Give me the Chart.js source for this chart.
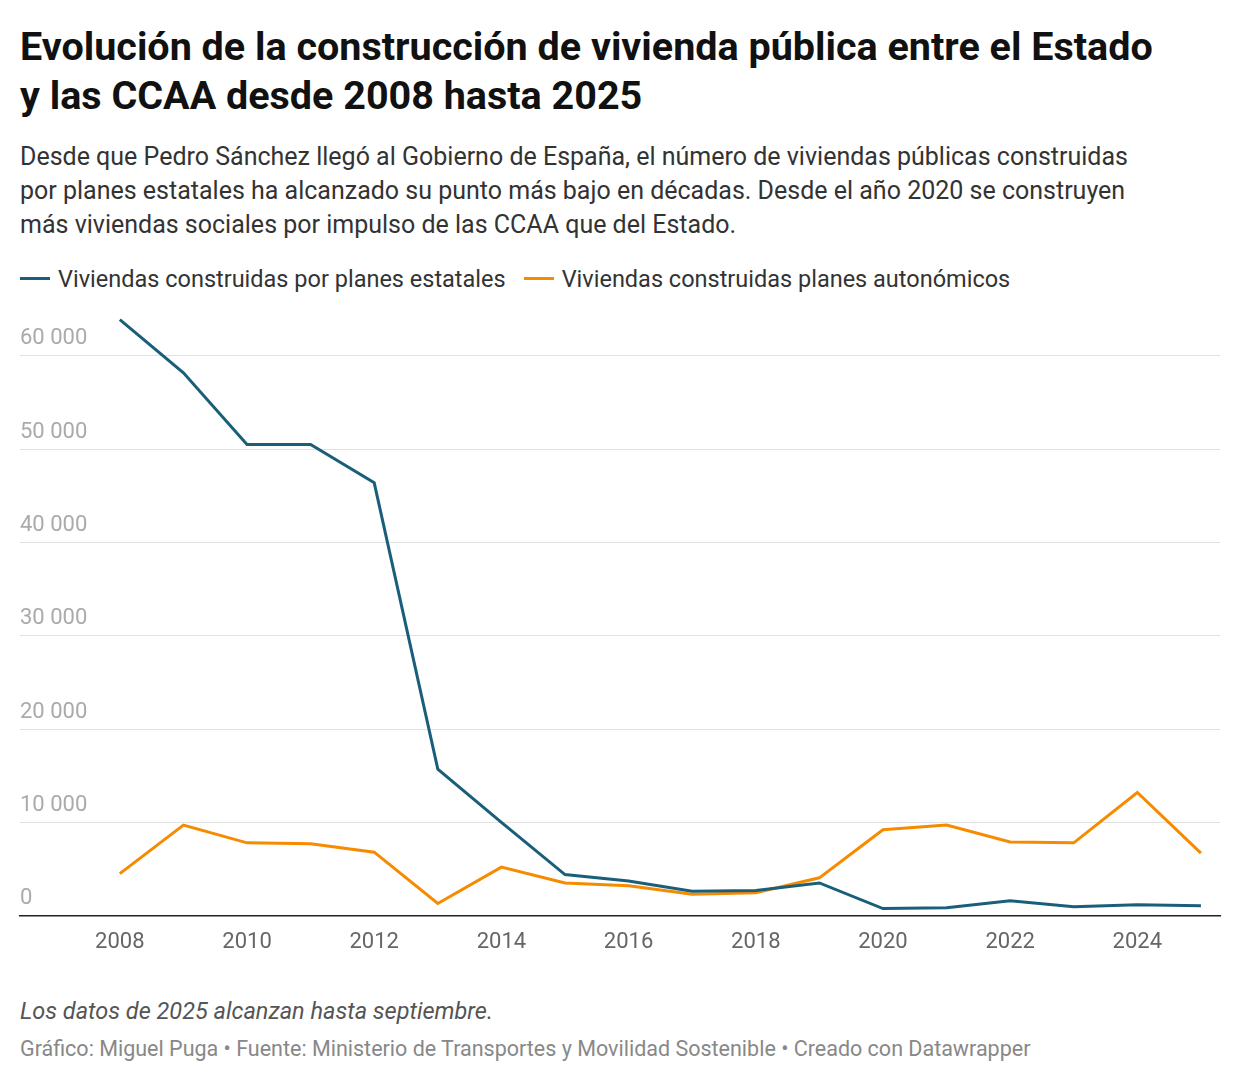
<!DOCTYPE html>
<html>
<head>
<meta charset="utf-8">
<script src="https://cdn.jsdelivr.net/npm/chart.js@4"></script>
<style>
  body { margin: 0; background: #fff; font-family: Roboto, sans-serif; color: #222; }
  #wrap { position: relative; width: 1240px; height: 1082px; }
  h1 { position: absolute; left: 20px; top: 22px; margin: 0; font-size: 39.5px; line-height: 49px; font-weight: 700; width: 1150px; color: #111; }
  .sub { position: absolute; left: 20px; top: 140px; font-size: 25px; line-height: 34px; width: 1150px; color: #333; }
  .legend { position: absolute; left: 20px; top: 265px; font-size: 23.5px; color: #333; }
  .legend span { display: inline-block; margin-right: 18px; }
  .legend i { display: inline-block; width: 30px; height: 3px; vertical-align: middle; margin-right: 8px; position: relative; top: -2px; }
  #box { position: absolute; left: 0; top: 300px; width: 1240px; height: 670px; }
  .note { position: absolute; left: 20px; top: 997px; font-size: 23.5px; font-style: italic; color: #555; }
  .src { position: absolute; left: 20px; top: 1036px; font-size: 21.5px; color: #888; }
</style>
</head>
<body>
<div id="wrap">
  <h1>Evolución de la construcción de vivienda pública entre el Estado y las CCAA desde 2008 hasta 2025</h1>
  <div class="sub">Desde que Pedro Sánchez llegó al Gobierno de España, el número de viviendas públicas construidas por planes estatales ha alcanzado su punto más bajo en décadas. Desde el año 2020 se construyen más viviendas sociales por impulso de las CCAA que del Estado.</div>
  <div class="legend"><span><i style="background:#1a5f7a"></i>Viviendas construidas por planes estatales</span><span><i style="background:#f68b00"></i>Viviendas construidas planes autonómicos</span></div>
  <div id="box"><canvas id="c"></canvas></div>
  <div class="note">Los datos de 2025 alcanzan hasta septiembre.</div>
  <div class="src">Gráfico: Miguel Puga • Fuente: Ministerio de Transportes y Movilidad Sostenible • Creado con Datawrapper</div>
</div>
<script>
const years = [2008, 2009, 2010, 2011, 2012, 2013, 2014, 2015, 2016, 2017, 2018, 2019, 2020, 2021, 2022, 2023, 2024, 2025];
const estatales = [63900, 58200, 50500, 50500, 46400, 15700, 10000, 4400, 3700, 2600, 2700, 3500, 750, 850, 1600, 950, 1150, 1050];
const autonomicos = [4500, 9700, 7800, 7700, 6800, 1300, 5200, 3500, 3200, 2300, 2450, 4050, 9200, 9700, 7900, 7800, 13200, 6700];
const yTicks = [0, 10000, 20000, 30000, 40000, 50000, 60000];
const xTicks = [2008, 2010, 2012, 2014, 2016, 2018, 2020, 2022, 2024];

const fmt = v => v === 0 ? '0' : String(v).replace(/\B(?=(\d{3})+(?!\d))/g, ' ');

// y labels sit above the gridlines, left aligned
const yLabels = {
  id: 'yLabels',
  afterDraw(chart) {
    const { ctx, scales: { y }, chartArea } = chart;
    ctx.save();
    ctx.font = '22px Roboto';
    ctx.fillStyle = '#aaa';
    ctx.textBaseline = 'bottom';
    yTicks.forEach(v => ctx.fillText(fmt(v), chartArea.left, y.getPixelForValue(v) - 6));
    ctx.restore();
  }
};

new Chart(document.getElementById('c'), {
  type: 'line',
  data: {
    datasets: [
      { data: years.map((x, i) => ({ x, y: estatales[i] })), borderColor: '#1a5f7a', borderWidth: 3, pointRadius: 0, tension: 0 },
      { data: years.map((x, i) => ({ x, y: autonomicos[i] })), borderColor: '#f68b00', borderWidth: 3, pointRadius: 0, tension: 0 }
    ]
  },
  options: {
    responsive: true,
    maintainAspectRatio: false,
    animation: false,
    layout: { padding: { left: 20, right: 20, top: 0, bottom: 0 } },
    plugins: { legend: { display: false }, tooltip: { enabled: false } },
    scales: {
      x: {
        type: 'linear', min: 2006.43, max: 2025.3,
        afterBuildTicks: s => { s.ticks = xTicks.map(v => ({ value: v })); },
        grid: { display: false, drawTicks: false },
        border: { color: '#222', width: 1.5 },
        ticks: { color: '#666', font: { size: 22, family: 'Roboto' }, padding: 14, callback: v => String(v) }
      },
      y: {
        min: 0, max: 66000,
        afterBuildTicks: s => { s.ticks = yTicks.map(v => ({ value: v })); },
        grid: { color: '#e2e2e2', drawTicks: false },
        border: { display: false },
        ticks: { display: false }
      }
    }
  },
  plugins: [yLabels]
});
</script>
</body>
</html>
